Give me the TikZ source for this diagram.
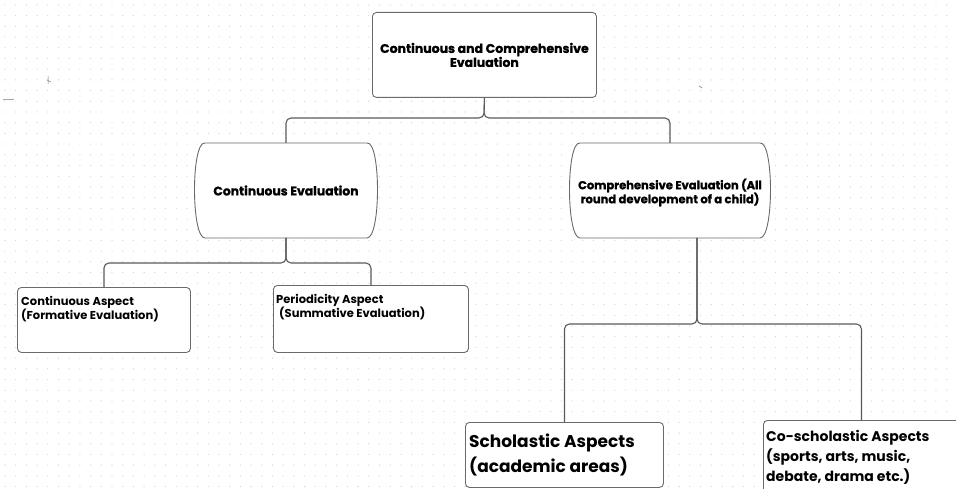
\documentclass[tikz,border=0pt]{standalone}
\usepackage{fontspec}
\setmainfont{Poppins}
\newfontfamily\popb{Poppins}[UprightFont=* Bold]
\newfontfamily\popx{Poppins Bold}[FakeBold=1.2]
\definecolor{dotc}{HTML}{D4D4D4}
\definecolor{linec}{HTML}{5A5A5A}
\definecolor{boxc}{HTML}{6A6A6A}
\tikzset{
  boxst/.style={draw=boxc, line width=0.9pt, fill=white, rounded corners=4pt},
  conn/.style={draw=linec, line width=1.1pt, rounded corners=5pt},
  ghost/.style={inner sep=0pt, outer sep=0pt, minimum width=0pt},
}
\begin{document}
\begin{tikzpicture}[x=1pt,y=-1pt]
\clip (0,0) rectangle (956,489);
\fill[white] (0,0) rectangle (956,489);
\foreach \i in {0,...,89}{\foreach \j in {0,...,45}{\fill[dotc] (5+\i*10.7,5+\j*10.7) circle (0.65);}}
% artifacts
\draw[gray, line width=0.5pt] (48,76) -- (48,84) (47,80) -- (51,82);
\draw[gray, line width=0.6pt] (699,86) -- (702,88);
\draw[gray!70, line width=1pt] (3,100) -- (14,100);
% top
\node[boxst, minimum width=224pt, minimum height=85pt, anchor=north west] (top) at (372,12) {};
\node[align=center, font=\popx\fontsize{12.5}{14}\selectfont] at (top.center) {Continuous and Comprehensive\\Evaluation};
% continuous evaluation
\node[ghost, minimum width=170pt, minimum height=95pt, anchor=north west] (ce) at (201,143) {};
\draw[boxst, rounded corners=0pt] ([xshift=4pt]ce.north west) -- ([xshift=-4pt]ce.north east) .. controls ([xshift=10pt,yshift=2pt]ce.north east) and ([xshift=10pt]ce.south east) .. ([xshift=-4pt]ce.south east) -- ([xshift=4pt]ce.south west) .. controls ([xshift=-10pt]ce.south west) and ([xshift=-10pt,yshift=2pt]ce.north west) .. cycle;
\node[font=\popx\fontsize{12.4}{14}\selectfont] at (ce.center) {Continuous Evaluation};
% comprehensive evaluation
\node[ghost, minimum width=188pt, minimum height=95pt, anchor=north west] (cp) at (576,143) {};
\draw[boxst, rounded corners=0pt] ([xshift=4pt]cp.north west) -- ([xshift=-4pt]cp.north east) .. controls ([xshift=10pt,yshift=2pt]cp.north east) and ([xshift=10pt]cp.south east) .. ([xshift=-4pt]cp.south east) -- ([xshift=4pt]cp.south west) .. controls ([xshift=-10pt]cp.south west) and ([xshift=-10pt,yshift=2pt]cp.north west) .. cycle;
\node[align=center, font=\popx\fontsize{11.5}{14}\selectfont] at ([yshift=-2pt]cp.center) {Comprehensive Evaluation (All\\round development of a child)};
% lower left boxes
\node[boxst, minimum width=173pt, minimum height=65pt, anchor=north west] (ca) at (17,287) {};
\node[anchor=north west, align=left, inner sep=0pt, font=\popb\fontsize{11.5}{12.5}\selectfont] at (21,296) {Continuous Aspect\\(Formative Evaluation)};
\node[boxst, minimum width=195pt, minimum height=67pt, anchor=north west] (pa) at (273,285) {};
\node[anchor=north west, align=left, inner sep=0pt, font=\popb\fontsize{11.5}{12.5}\selectfont] at (276,294) {Periodicity Aspect\\\hspace*{3pt}(Summative Evaluation)};
% lower right boxes
\node[boxst, minimum width=198pt, minimum height=65pt, anchor=north west] (sa) at (465,422) {};
\node[anchor=north west, align=left, inner sep=0pt, font=\popb\fontsize{17}{25}\selectfont] at (469,434) {Scholastic Aspects\\(academic areas)};
\node[boxst, minimum width=196pt, minimum height=80pt, anchor=north west] (co) at (763,420) {};
\node[anchor=north west, align=left, inner sep=0pt, font=\popb\fontsize{14}{20}\selectfont] at (766,430) {Co-scholastic Aspects\\(sports, arts, music,\\debate, drama etc.)};
% connectors
\coordinate (j1) at (484,118);
\coordinate (cpin) at (670,143);
\draw[conn] (top.south) -- (j1) -- (ce.north |- j1) -- (ce.north);
\draw[conn] (top.south) -- (j1) -- (cpin |- j1) -- (cpin);
\coordinate (j2) at (286,263);
\draw[conn] (ce.south) -- (j2) -- (ca.north |- j2) -- (ca.north);
\draw[conn] (ce.south) -- (j2) -- (pa.north |- j2) -- (pa.north);
\coordinate (cpout) at (697,238);
\coordinate (j3) at (697,324);
\draw[conn] (cpout) -- (j3) -- (sa.north |- j3) -- (sa.north);
\draw[conn] (cpout) -- (j3) -- (co.north |- j3) -- (co.north);
\end{tikzpicture}
\end{document}
